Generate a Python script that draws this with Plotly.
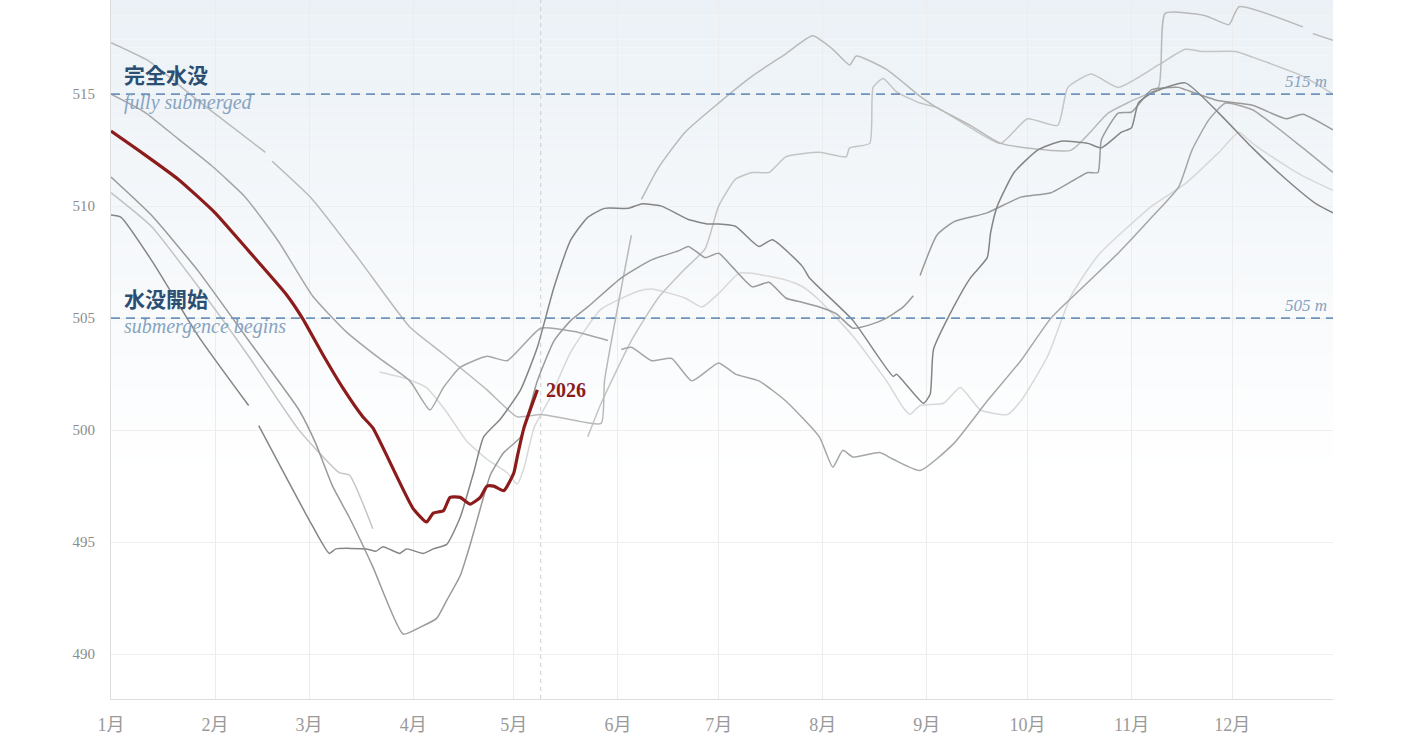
import plotly.graph_objects as go
import pandas as pd

BASE_DATE = "2026-01-01"
TODAY = "2026-05-09"
MONTH_LABELS = ["1月", "2月", "3月", "4月", "5月", "6月", "7月", "8月", "9月", "10月", "11月", "12月"]
Y_TICKS = [490, 495, 500, 505, 510, 515]
FULL_LEVEL = 515
START_LEVEL = 505

# ---- 2026 (current year) : day-of-year, level (m)
cur_days = [0, 10, 20, 31, 41, 52, 57, 63, 69, 75, 78, 90, 94, 96, 99, 101, 104, 107, 110, 112, 114, 117, 120, 121, 123, 127]
cur_lv = [513.35, 512.3, 511.2, 509.7, 508.0, 506.1, 505.0, 503.4, 501.9, 500.6, 500.1, 496.5, 495.9, 496.3, 496.4, 497.0,
          497.0, 496.7, 497.0, 497.5, 497.5, 497.3, 498.1, 498.8, 500.1, 501.8]

# ---- past years (None = missing data)
pa_days = [0, 11, 26, 46, None, 48, 60, 74, 89, 99, 112, 121, 128, 136, 146, 147, 155, None, 158, 163, 171, 181, 191, 201,
           209, 215, 220, 222, 231, 241, 246, 256, 265, 286, 297, 304, 312, 314, 326, 333, 336, 355, None, 358, 364]
pa_lv = [517.3, 516.5, 514.7, 512.4, None, 512.0, 510.3, 507.6, 504.6, 503.4, 501.8, 500.6, 500.7, 500.5, 500.3, 502.2,
         508.7, None, 510.3, 511.7, 513.3, 514.6, 515.8, 516.8, 517.6, 517.0, 516.3, 516.7, 516.1, 514.9, 514.4, 513.6,
         512.8, 512.5, 514.15, 514.7, 515.3, 518.6, 518.5, 518.1, 518.9, 518.0, None, 517.7, 517.4]

pb_days = [0, 10, 20, 30, 40, 50, 60, 70, 80, 89, 95, 99, 104, 112, 118, 128, 138, 148, None, 152, 155, 161, 167, 173, 181,
           186, 193, 201, 211, 215, 218, 221, 229, 233, 241, 251, 261, 271, 280, 291, 300, 310, 318, 322, 327, 332, 340, 355,
           364]
pb_lv = [515.0, 514.2, 513.0, 511.8, 510.4, 508.4, 506.0, 504.4, 503.2, 502.2, 500.9, 501.9, 502.8, 503.3, 503.1, 504.55,
         504.4, 504.0, None, 503.6, 503.7, 503.1, 503.2, 502.2, 503.0, 502.5, 502.2, 501.3, 499.7, 498.35, 499.1, 498.8,
         499.0, 498.7, 498.2, 499.4, 501.3, 503.1, 505.0, 506.6, 507.9, 509.5, 510.85, 512.5, 513.85, 514.6, 514.3, 512.6,
         511.5]

pc_days = [0, 12, 26, 41, 56, 61, 66, 71, 78, 87, 92, 97, 100, 104, 107, 110, 113, 117, 122, 127, 132, 137, 142, 152, 161,
           169, 172, 177, 181, 185, 191, 196, 201, 206, 211, 216, 221, 226, 231, 236, 239, None, 241, 246, 251, 261, 271,
           280, 291, 294, 295, 300, 304, 310, 318, 320, 330, 340, 350, 355, 364]
pc_lv = [511.3, 509.6, 507.1, 504.0, 500.9, 499.4, 497.5, 496.1, 493.9, 490.9, 491.2, 491.6, 492.4, 493.5, 494.9, 496.5,
         498.0, 499.0, 499.7, 502.2, 504.0, 504.9, 505.5, 506.8, 507.6, 508.0, 508.2, 507.7, 507.9, 507.3, 506.4, 506.6,
         505.9, 505.7, 505.5, 505.2, 504.55, 504.7, 505.0, 505.5, 506.0, None, 506.9, 508.7, 509.3, 509.7, 510.4, 510.6,
         511.5, 511.5, 512.95, 514.15, 514.2, 515.2, 515.3, 515.2, 514.7, 514.5, 513.9, 514.1, 513.4]

pd_days = [0, 12, 26, 41, 56, 68, 71, 78, None, 142, 146, 155, 163, 171, 177, 181, 186, 191, 196, 201, 211, 219, 220, 226,
           227, 230, 234, 241, 246, 256, 265, 273, 282, 285, 292, 300, 312, 320, 325, 335, 340, 355, 364]
pd_lv = [510.6, 509.1, 506.4, 503.3, 500.0, 498.1, 498.0, 495.6, None, 499.7, 501.2, 504.0, 505.9, 507.2, 508.1, 510.0,
         511.2, 511.5, 511.5, 512.2, 512.4, 512.2, 512.6, 512.8, 515.3, 515.7, 515.1, 514.6, 514.4, 513.5, 512.8, 513.9,
         513.6, 515.3, 515.9, 515.3, 516.3, 517.0, 516.9, 516.9, 516.65, 515.8, 515.0]

pe_days = [0, 3, 12, 26, 41, None, 44, 59, 65, 67, 76, 79, 81, 86, 88, 93, 96, 100, 104, 108, 111, 116, 122, 127, 132, 137,
           142, 147, 154, 158, 164, 172, 178, 181, 186, 193, 197, 206, 208, 221, 233, 234, 242, 244, 245, 251, 256, 261,
           262, 264, 269, 276, 283, 291, 295, 301, 304, 306, 310, 320, 330, 340, 350, 359, 364]
pe_lv = [509.6, 509.5, 507.6, 504.2, 501.1, None, 500.2, 496.0, 494.5, 494.7, 494.7, 494.6, 494.8, 494.5, 494.7, 494.5,
         494.7, 494.9, 496.1, 498.1, 499.7, 500.5, 501.8, 503.7, 506.4, 508.5, 509.5, 509.9, 509.9, 510.1, 510.0, 509.4,
         509.2, 509.2, 509.1, 508.2, 508.5, 507.3, 506.8, 504.9, 502.4, 502.5, 501.2, 501.6, 503.6, 505.5, 506.8, 507.7,
         508.8, 510.0, 511.5, 512.5, 512.9, 512.8, 512.6, 513.3, 513.5, 514.6, 515.05, 515.5, 514.15, 512.6, 511.2, 510.1,
         509.7]

pf_days = [80, 88, 94, 100, 106, 112, 118, 121, 123, 126, 131, 137, 146, 157, 161, 171, 176, 181, 187, 191, 201, 206, 211,
           221, 231, 236, 238, 241, 248, 253, 259, 267, 271, 279, 286, 294, 310, 320, 330, 336, 340, 350, 355, 364]
pf_lv = [502.6, 502.3, 501.9, 500.8, 499.5, 498.7, 498.1, 497.6, 498.3, 500.1, 501.5, 503.5, 505.4, 506.2, 506.3, 505.9,
         505.5, 506.1, 507.0, 507.0, 506.7, 506.4, 505.8, 504.2, 502.2, 501.0, 500.7, 501.1, 501.2, 501.9, 500.9, 500.7,
         501.3, 503.3, 506.0, 507.8, 510.0, 511.0, 512.4, 513.3, 512.8, 511.8, 511.35, 510.7]

past_series = [
    (pf_days, pf_lv, "#d8d8d8"),
    (pd_days, pd_lv, "#c4c4c4"),
    (pa_days, pa_lv, "#b9b9b9"),
    (pb_days, pb_lv, "#a6a6a6"),
    (pc_days, pc_lv, "#9a9a9a"),
    (pe_days, pe_lv, "#858585"),
]

base = pd.Timestamp(BASE_DATE)


def to_dates(days):
    return [None if d is None else base + pd.Timedelta(days=d) for d in days]


fig = go.Figure()

for days, lv, col in past_series:
    fig.add_trace(go.Scatter(x=to_dates(days), y=lv, mode="lines", connectgaps=False,
                             line=dict(color=col, width=1.5, shape="spline", smoothing=0.5), hoverinfo="skip"))

fig.add_trace(go.Scatter(x=to_dates(cur_days), y=cur_lv, mode="lines",
                         line=dict(color="#8c1c1c", width=3.2, shape="spline", smoothing=0.5), hoverinfo="skip"))

# ---- background gradient (light blue at top fading to white)
shapes = []
lo, hi = 498.0, 519.2
n = 60
for i in range(n):
    t = (i + 0.5) / n
    r = round(255 + (235 - 255) * t)
    g = round(255 + (241 - 255) * t)
    b = round(255 + (246 - 255) * t)
    shapes.append(dict(type="rect", xref="paper", yref="y", x0=0, x1=1,
                       y0=lo + (hi - lo) * i / n, y1=lo + (hi - lo) * (i + 1) / n,
                       fillcolor=f"rgb({r},{g},{b})", line=dict(width=0), layer="below"))

for lvl in (FULL_LEVEL, START_LEVEL):
    shapes.append(dict(type="line", xref="paper", yref="y", x0=0, x1=1, y0=lvl, y1=lvl,
                       line=dict(color="#6f94bb", width=1.8, dash="9px,6px")))

shapes.append(dict(type="line", xref="x", yref="paper", x0=TODAY, x1=TODAY, y0=0, y1=1,
                   line=dict(color="#cccccc", width=1, dash="4px,4px"), layer="between"))

ann = []
cjk = "Noto Sans CJK JP"
serif = "Liberation Serif"
blue_dark = "#2b4f72"
blue_light = "#87a3c0"
for lvl, jp, en in ((FULL_LEVEL, "完全水没", "fully submerged"), (START_LEVEL, "水没開始", "submergence begins")):
    ann.append(dict(xref="paper", yref="y", x=0, y=lvl, xanchor="left", yanchor="bottom", xshift=11, yshift=3,
                    text=f"<b>{jp}</b>", showarrow=False, font=dict(family=cjk, size=21, color=blue_dark)))
    ann.append(dict(xref="paper", yref="y", x=0, y=lvl, xanchor="left", yanchor="top", xshift=11, yshift=5,
                    text=f"<i>{en}</i>", showarrow=False, font=dict(family=serif, size=20, color=blue_light)))
    ann.append(dict(xref="paper", yref="y", x=1, y=lvl, xanchor="right", yanchor="bottom", xshift=-4, yshift=1,
                    text=f"<i>{lvl} m</i>", showarrow=False, font=dict(family=serif, size=17, color=blue_light)))

ann.append(dict(xref="x", yref="y", x=to_dates([cur_days[-1]])[0], y=cur_lv[-1], xanchor="left", yanchor="middle",
                xshift=7, yshift=0, text="<b>2026</b>", showarrow=False,
                font=dict(family=serif, size=20, color="#8c1c1c")))

fig.update_layout(
    width=1414, height=740,
    margin=dict(l=111, r=81, t=0, b=41),
    plot_bgcolor="white", paper_bgcolor="white",
    showlegend=False,
    shapes=shapes, annotations=ann,
    xaxis=dict(type="date", range=["2026-01-01", "2026-12-31"],
               tickvals=[f"2026-{m:02d}-01" for m in range(1, 13)], ticktext=MONTH_LABELS,
               showgrid=True, gridcolor="#ececec", gridwidth=1, zeroline=False,
               showline=True, linecolor="#dddddd", linewidth=1, ticks="",
               ticklabelstandoff=9,
               tickfont=dict(family=f"{serif}, {cjk}", size=18, color="#9a9a9a")),
    yaxis=dict(range=[488.0, 519.2], tickvals=Y_TICKS, ticktext=[str(v) for v in Y_TICKS],
               showgrid=True, gridcolor="#eeeeee", gridwidth=1, zeroline=False,
               showline=True, linecolor="#dddddd", linewidth=1, ticks="",
               ticklabelstandoff=12,
               tickfont=dict(family=serif, size=15, color="#8c8c8c")),
)

fig.write_html("out.html")
